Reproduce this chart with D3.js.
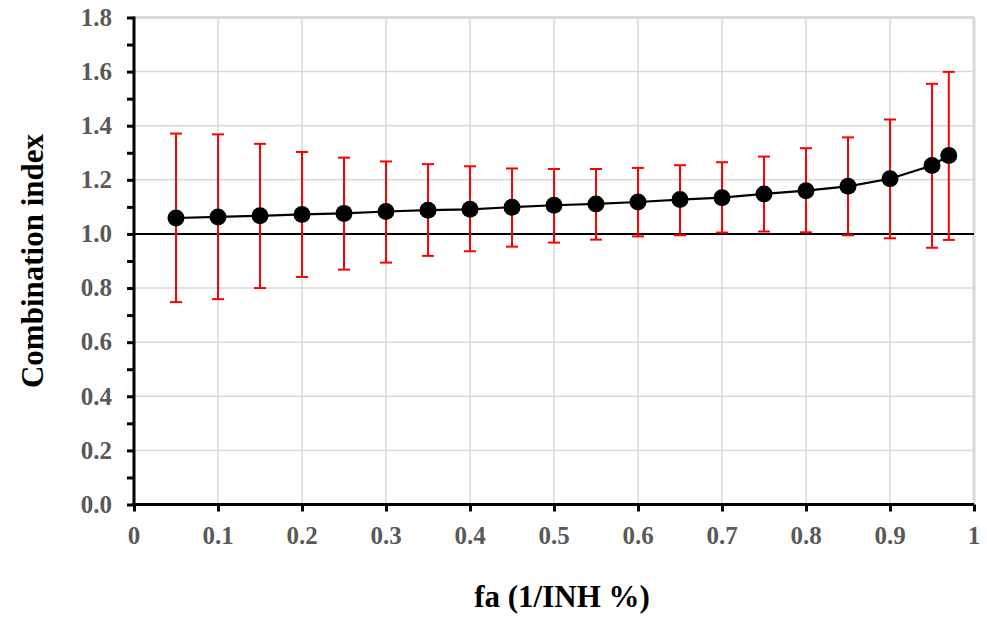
<!DOCTYPE html>
<html>
<head>
<meta charset="utf-8">
<script src="https://cdn.jsdelivr.net/npm/d3@7"></script>
<style>
  body { margin: 0; background: #fff; }
  svg { display: block; }
</style>
</head>
<body>
<div id="chart"></div>
<script>
// fa values and combination index (mean, upper, lower of error bars)
var fa = [0.05, 0.1, 0.15, 0.2, 0.25, 0.3, 0.35, 0.4, 0.45, 0.5, 0.55, 0.6, 0.65, 0.7, 0.75, 0.8, 0.85, 0.9, 0.95, 0.97];
var ci = [1.059, 1.063, 1.067, 1.072, 1.076, 1.083, 1.088, 1.091, 1.099, 1.106, 1.111, 1.118, 1.127, 1.134, 1.148, 1.160, 1.176, 1.204, 1.253, 1.290];
var ciUpper = [1.371, 1.368, 1.333, 1.303, 1.282, 1.268, 1.258, 1.250, 1.242, 1.240, 1.240, 1.244, 1.254, 1.265, 1.286, 1.317, 1.357, 1.423, 1.555, 1.599];
var ciLower = [0.748, 0.759, 0.800, 0.841, 0.868, 0.894, 0.919, 0.936, 0.953, 0.968, 0.979, 0.991, 0.995, 1.005, 1.009, 1.006, 0.995, 0.984, 0.949, 0.978];

var xTicks = [0, 0.1, 0.2, 0.3, 0.4, 0.5, 0.6, 0.7, 0.8, 0.9, 1];
var yTicks = [0, 0.2, 0.4, 0.6, 0.8, 1.0, 1.2, 1.4, 1.6, 1.8];

var W = 987, H = 623;
var margin = { top: 17.5, right: 13, bottom: 118.5, left: 134 };
var width = W - margin.left - margin.right;
var height = H - margin.top - margin.bottom;

var svg = d3.select("#chart").append("svg")
    .attr("width", W)
    .attr("height", H);

var g = svg.append("g")
    .attr("transform", `translate(${margin.left},${margin.top})`);

var x = d3.scaleLinear().domain([0, 1]).range([0, width]);
var y = d3.scaleLinear().domain([0, 1.8]).range([height, 0]);

var data = fa.map((d, i) => ({ fa: d, ci: ci[i], hi: ciUpper[i], lo: ciLower[i] }));

// gridlines
g.append("g").selectAll("line.hgrid")
    .data(yTicks.slice(1))
    .enter().append("line")
    .attr("x1", 0).attr("x2", width)
    .attr("y1", d => y(d)).attr("y2", d => y(d))
    .attr("stroke", "#d9d9d9")
    .attr("stroke-width", d => d === 1.8 ? 3 : 1.5);

g.append("g").selectAll("line.vgrid")
    .data(xTicks.slice(1))
    .enter().append("line")
    .attr("x1", d => x(d)).attr("x2", d => x(d))
    .attr("y1", 0).attr("y2", height)
    .attr("stroke", "#d9d9d9")
    .attr("stroke-width", d => d === 1 ? 3 : 1.5);

// reference line at CI = 1
g.append("line")
    .attr("x1", 0).attr("x2", width)
    .attr("y1", y(1)).attr("y2", y(1))
    .attr("stroke", "#000")
    .attr("stroke-width", 2);

// error bars
var err = g.append("g").attr("class", "errors")
    .selectAll("g")
    .data(data)
    .enter().append("g")
    .attr("stroke", "#ff0000")
    .attr("stroke-width", 2);

err.append("line")
    .attr("x1", d => x(d.fa)).attr("x2", d => x(d.fa))
    .attr("y1", d => y(d.lo)).attr("y2", d => y(d.hi));
err.append("line")
    .attr("x1", d => x(d.fa) - 6).attr("x2", d => x(d.fa) + 6)
    .attr("y1", d => y(d.hi)).attr("y2", d => y(d.hi));
err.append("line")
    .attr("x1", d => x(d.fa) - 6).attr("x2", d => x(d.fa) + 6)
    .attr("y1", d => y(d.lo)).attr("y2", d => y(d.lo));

// series line + markers
g.append("path")
    .datum(data)
    .attr("fill", "none")
    .attr("stroke", "#000")
    .attr("stroke-width", 2.2)
    .attr("d", d3.line().x(d => x(d.fa)).y(d => y(d.ci)));

g.append("g").selectAll("circle")
    .data(data)
    .enter().append("circle")
    .attr("cx", d => x(d.fa))
    .attr("cy", d => y(d.ci))
    .attr("r", 8.5)
    .attr("fill", "#000");

// axes
var fontFam = "'Liberation Serif', 'Times New Roman', serif";

var yAxis = g.append("g")
    .call(d3.axisLeft(y).tickValues(d3.range(0, 1.81, 0.1)).tickSize(7).tickFormat(""));
var xAxis = g.append("g")
    .attr("transform", `translate(0,${height})`)
    .call(d3.axisBottom(x).tickValues(xTicks).tickSize(7).tickFormat(""));

[xAxis, yAxis].forEach(a => {
    a.select(".domain").attr("stroke", "#000").attr("stroke-width", 3);
    a.selectAll(".tick line").attr("stroke", "#000").attr("stroke-width", 3);
});
yAxis.select(".domain").attr("d", `M0,${height + 1.5}V${-1}`);
xAxis.select(".domain").attr("d", `M${-1.5},0H${width}`);

// tick labels
g.append("g").selectAll("text")
    .data(yTicks)
    .enter().append("text")
    .attr("x", -22)
    .attr("y", d => y(d))
    .attr("dy", "0.33em")
    .attr("text-anchor", "end")
    .style("font-family", fontFam)
    .style("font-weight", "bold")
    .style("font-size", "25px")
    .style("fill", "#595959")
    .text(d => d.toFixed(1));

g.append("g").selectAll("text")
    .data(xTicks)
    .enter().append("text")
    .attr("x", d => x(d))
    .attr("y", height + 39.5)
    .attr("text-anchor", "middle")
    .style("font-family", fontFam)
    .style("font-weight", "bold")
    .style("font-size", "25px")
    .style("fill", "#595959")
    .text(d => d === 0 || d === 1 ? d3.format("d")(d) : d.toFixed(1));

// axis titles
svg.append("text")
    .attr("x", 562)
    .attr("y", 607)
    .attr("text-anchor", "middle")
    .style("font-family", fontFam)
    .style("font-weight", "bold")
    .style("font-size", "31px")
    .style("fill", "#000")
    .text("fa (1/INH %)");

svg.append("text")
    .attr("transform", `translate(43,${261}) rotate(-90)`)
    .attr("text-anchor", "middle")
    .style("font-family", fontFam)
    .style("font-weight", "bold")
    .style("font-size", "31px")
    .style("fill", "#000")
    .text("Combination index");
</script>
</body>
</html>
